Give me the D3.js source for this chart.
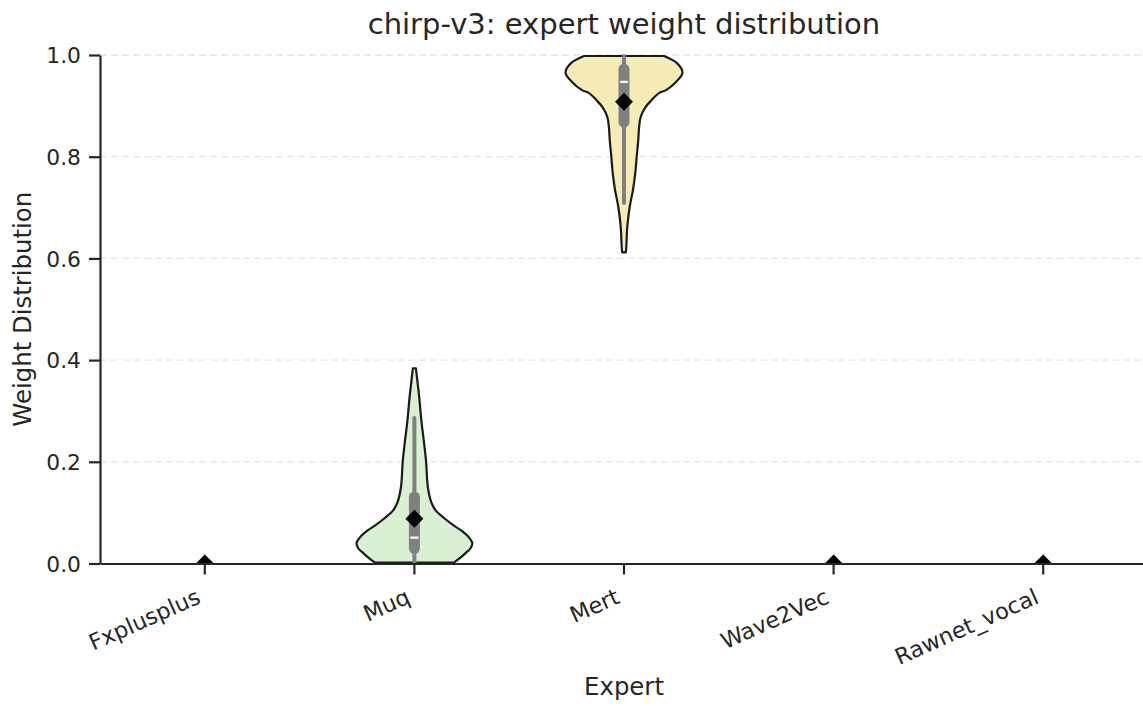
<!DOCTYPE html>
<html>
<head>
<meta charset="utf-8">
<script src="https://cdn.jsdelivr.net/npm/d3@7"></script>
<style>
  html, body { margin: 0; padding: 0; background: #ffffff; }
  svg { display: block; font-family: "DejaVu Sans", sans-serif; }
</style>
</head>
<body>
<svg id="chart" width="1143" height="706"></svg>
<script>
// ---------- data ----------
const categories = ["Fxplusplus", "Muq", "Mert", "Wave2Vec", "Rawnet_vocal"];
const fillColors = ["#f6d5e3", "#d9f0d3", "#f5ecb5", "#d4e4f4", "#e5d8f0"];
const means       = [0, 0.088, 0.908, 0, 0];
const medians     = [0, 0.051, 0.947, 0, 0];
const q1          = [0, 0.030, 0.868, 0, 0];
const q3          = [0, 0.131, 0.972, 0, 0];
const whiskerLow  = [0, 0.000, 0.709, 0, 0];
const whiskerHigh = [0, 0.286, 0.998, 0, 0];

// violin density profiles (weight value, relative density)
const muqValues   = [0.002, 0.01, 0.02, 0.03, 0.04, 0.05, 0.065, 0.075, 0.09, 0.105, 0.12, 0.15, 0.2, 0.24, 0.28, 0.33, 0.35, 0.384];
const muqDensity  = [0.68, 0.77, 0.87, 0.96, 0.99, 0.94, 0.80, 0.67, 0.50, 0.36, 0.29, 0.23, 0.20, 0.162, 0.12, 0.080, 0.060, 0.026];
const mertValues  = [0.612, 0.622, 0.662, 0.701, 0.735, 0.768, 0.8, 0.833, 0.855, 0.878, 0.898, 0.911, 0.925, 0.931, 0.947, 0.965, 0.984, 0.998];
const mertDensity = [0.031, 0.039, 0.056, 0.097, 0.154, 0.193, 0.217, 0.244, 0.256, 0.285, 0.371, 0.47, 0.598, 0.718, 0.889, 1.0, 0.906, 0.684];
const profiles = { "Muq": [muqValues, muqDensity], "Mert": [mertValues, mertDensity] };

const yTicks = [0.0, 0.2, 0.4, 0.6, 0.8, 1.0];
const titleText = "chirp-v3: expert weight distribution";
const xLabel = "Expert";
const yLabel = "Weight Distribution";

// ---------- layout ----------
const svg = d3.select("#chart");
const pLeft = 100, pRight = 1148, pTop = 55, pBottom = 563.5;
const textColor = "#262626";

const x = d3.scaleBand().domain(categories).range([pLeft, pRight]).padding(0);
const cx = c => x(c) + x.bandwidth() / 2;
const y = d3.scaleLinear().domain([0, 1]).range([pBottom, pTop]);
const w = d3.scaleLinear().domain([0, 1]).range([0, 58.5]);

svg.append("defs").append("clipPath").attr("id", "plotclip")
  .append("rect").attr("x", pLeft).attr("y", pTop - 2).attr("width", pRight - pLeft).attr("height", pBottom - pTop + 2);

// grid
svg.append("g").selectAll("line").data(yTicks.filter(t => t > 0)).join("line")
  .attr("x1", pLeft).attr("x2", pRight)
  .attr("y1", d => y(d)).attr("y2", d => y(d))
  .attr("stroke", "#e6e6e6").attr("stroke-width", 1.3)
  .attr("stroke-dasharray", "7,4");

const plot = svg.append("g").attr("clip-path", "url(#plotclip)");

// violins
const area = d3.area()
  .curve(d3.curveCatmullRom)
  .y(d => y(d.v));

categories.forEach((c, i) => {
  const p = profiles[c];
  if (!p) return;
  const pts = p[0].map((v, k) => ({ v: v, d: p[1][k] }));
  const center = cx(c);
  plot.append("path")
    .datum(pts)
    .attr("d", area.x0(d => center - w(d.d)).x1(d => center + w(d.d)))
    .attr("fill", fillColors[i])
    .attr("stroke", "#1a1a1a")
    .attr("stroke-width", 2.2)
    .attr("stroke-linejoin", "round");
});

// inner boxes
categories.forEach((c, i) => {
  const center = cx(c);
  if (whiskerHigh[i] > whiskerLow[i]) {
    plot.append("line")
      .attr("x1", center).attr("x2", center)
      .attr("y1", y(whiskerLow[i])).attr("y2", y(whiskerHigh[i]))
      .attr("stroke", "#808080").attr("stroke-width", 4).attr("stroke-linecap", "round");
    plot.append("line")
      .attr("x1", center).attr("x2", center)
      .attr("y1", y(q1[i])).attr("y2", y(q3[i]))
      .attr("stroke", "#808080").attr("stroke-width", 11).attr("stroke-linecap", "round");
    plot.append("line")
      .attr("x1", center - 4).attr("x2", center + 4)
      .attr("y1", y(medians[i])).attr("y2", y(medians[i]))
      .attr("stroke", "#ffffff").attr("stroke-width", 2.2);
  }
});

// means (diamonds)
const diamond = d3.symbol().type(d3.symbolSquare).size(162);
plot.append("g").selectAll("path").data(categories).join("path")
  .attr("d", diamond())
  .attr("transform", (c, i) => `translate(${cx(c)},${y(means[i])}) rotate(45)`)
  .attr("fill", "#000000");

// axes
const yAxis = d3.axisLeft(y).tickValues(yTicks).tickFormat(d3.format(".1f")).tickSize(11).tickSizeOuter(0).tickPadding(8);
const gy = svg.append("g").attr("transform", `translate(${pLeft},0)`).call(yAxis);
const xAxis = d3.axisBottom(x).tickSize(11).tickSizeOuter(0).tickPadding(4);
const gx = svg.append("g").attr("transform", `translate(0,${pBottom})`).call(xAxis);

[gx, gy].forEach(g => {
  g.select(".domain").attr("stroke", textColor).attr("stroke-width", 2.2);
  g.selectAll(".tick line").attr("stroke", textColor).attr("stroke-width", 2.2);
  g.selectAll(".tick text").attr("fill", textColor).style("font-size", "21.8px").style("font-family", "DejaVu Sans");
});
gy.selectAll(".tick text").attr("dy", "0.35em");
gx.selectAll(".tick text")
  .style("font-size", "22.4px")
  .attr("text-anchor", "end")
  .attr("dy", null)
  .attr("y", 0)
  .attr("transform", "translate(-3,39) rotate(-24)");

// labels
svg.append("text").attr("x", 624).attr("y", 34).attr("text-anchor", "middle")
  .attr("fill", textColor).style("font-size", "29px").text(titleText);
svg.append("text").attr("x", 624).attr("y", 695).attr("text-anchor", "middle")
  .attr("fill", textColor).style("font-size", "24.4px").text(xLabel);
svg.append("text").attr("transform", `translate(31,${(pTop + pBottom) / 2}) rotate(-90)`)
  .attr("text-anchor", "middle")
  .attr("fill", textColor).style("font-size", "24.4px").text(yLabel);
</script>
</body>
</html>
